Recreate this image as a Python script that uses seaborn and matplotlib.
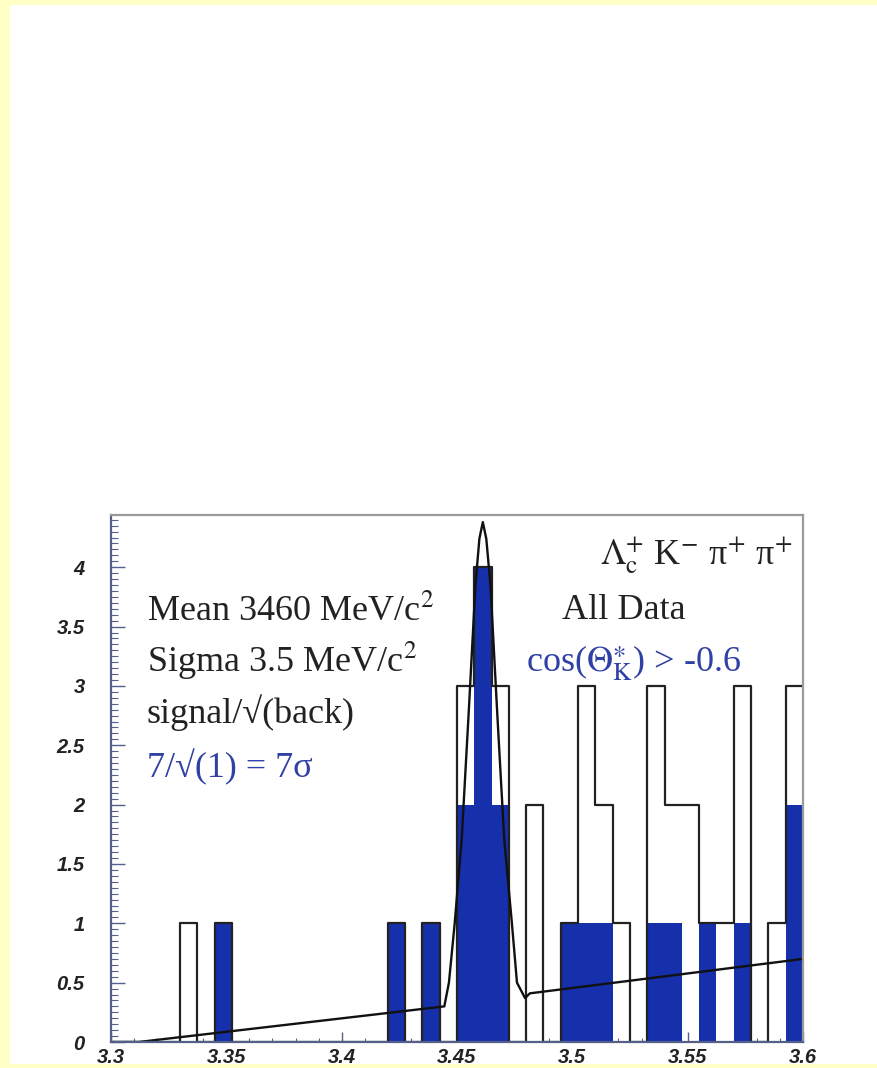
import numpy as np
import matplotlib
matplotlib.use("Agg")
import matplotlib.pyplot as plt
import seaborn as sns
from matplotlib.patches import Rectangle
from matplotlib.ticker import MultipleLocator

# ---------------- data ----------------
mass_range = (3.3, 3.6)          # GeV/c^2
n_bins = 40                      # bin width 7.5 MeV
# entries per bin, all data (open histogram)
all_data_counts = [0, 0, 0, 0, 1, 0, 1, 0, 0, 0,
                   0, 0, 0, 0, 0, 0, 1, 0, 1, 0,
                   3, 4, 3, 0, 2, 0, 1, 3, 2, 1,
                   0, 3, 2, 2, 1, 1, 3, 0, 1, 3]
# entries per bin with cos(Theta_K*) > -0.6 (filled histogram)
cos_cut_counts = [0, 0, 0, 0, 0, 0, 1, 0, 0, 0,
                  0, 0, 0, 0, 0, 0, 1, 0, 1, 0,
                  2, 4, 2, 0, 0, 0, 1, 1, 1, 0,
                  0, 1, 1, 0, 1, 0, 1, 0, 0, 2]
# fitted curve (gaussian + linear background)
fit_mass = [3.300, 3.312, 3.4445, 3.4465, 3.449, 3.452, 3.455, 3.458, 3.4597,
            3.4612, 3.4627, 3.4645, 3.4675, 3.4705, 3.4738, 3.476, 3.4795,
            3.4816, 3.600]
fit_value = [0.0, 0.0, 0.30, 0.50, 1.00, 1.70, 2.75, 3.85, 4.24,
             4.38, 4.24, 3.85, 2.75, 1.70, 1.00, 0.50, 0.37,
             0.41, 0.70]

x_ticks = [3.3, 3.35, 3.4, 3.45, 3.5, 3.55, 3.6]
x_tick_labels = ["3.3", "3.35", "3.4", "3.45", "3.5", "3.55", "3.6"]
y_ticks = [0, 0.5, 1, 1.5, 2, 2.5, 3, 3.5, 4]
y_tick_labels = ["0", "0.5", "1", "1.5", "2", "2.5", "3", "3.5", "4"]

# ---------------- style ----------------
sns.set_style("white")
plt.rcParams["font.family"] = ["Liberation Serif", "DejaVu Serif"]
plt.rcParams["mathtext.fontset"] = "stix"

BAR_BLUE = "#1530aa"
TEXT_BLUE = "#3040a4"
AXIS_COL = "#55608a"

W, H = 878, 1068
fig = plt.figure(figsize=(W / 100, H / 100), dpi=100)
fig.patch.set_facecolor("white")

# scanned-page yellow borders
yellow = "#ffffc6"
fig.add_artist(Rectangle((0, 0), 10 / W, 1, transform=fig.transFigure,
                         facecolor=yellow, edgecolor="none", zorder=0))
fig.add_artist(Rectangle((0, 1 - 5 / H), 1, 5 / H, transform=fig.transFigure,
                         facecolor=yellow, edgecolor="none", zorder=0))
fig.add_artist(Rectangle((0, 0), 1, 4 / H, transform=fig.transFigure,
                         facecolor=yellow, edgecolor="none", zorder=0))

left, right, top, bottom = 111, 803, 515, 1042
ax = fig.add_axes([left / W, 1 - bottom / H, (right - left) / W, (bottom - top) / H])
ax.set_facecolor("white")

edges = np.linspace(mass_range[0], mass_range[1], n_bins + 1)
centres = 0.5 * (edges[:-1] + edges[1:])

# open histogram (all data)
sns.histplot(x=centres, weights=all_data_counts, bins=n_bins, binrange=mass_range,
             element="step", fill=False, color="#222222", linewidth=1.6, ax=ax)
# filled histogram (angular cut)
sns.histplot(x=centres, weights=cos_cut_counts, bins=n_bins, binrange=mass_range,
             element="step", fill=True, color=BAR_BLUE, alpha=1.0, linewidth=0, ax=ax)
# fit curve
sns.lineplot(x=fit_mass, y=fit_value, sort=False, estimator=None,
             color="#111111", linewidth=1.7, ax=ax)

ax.set_xlim(*mass_range)
ax.set_ylim(0, 4.44)
ax.set_xlabel("")
ax.set_ylabel("")

ax.set_xticks(x_ticks)
ax.set_xticklabels(x_tick_labels)
ax.set_yticks(y_ticks)
ax.set_yticklabels(y_tick_labels)
ax.xaxis.set_minor_locator(MultipleLocator(0.01))
ax.yaxis.set_minor_locator(MultipleLocator(0.05))

ax.tick_params(axis="x", which="major", direction="in", length=7, width=1,
               color=AXIS_COL, pad=4, bottom=True, top=False)
ax.tick_params(axis="x", which="minor", direction="in", length=3, width=0.8,
               color=AXIS_COL, bottom=True, top=False)
ax.tick_params(axis="y", which="major", direction="in", length=10, width=1,
               color=AXIS_COL, pad=19, left=True, right=False)
ax.tick_params(axis="y", which="minor", direction="in", length=5, width=0.8,
               color=AXIS_COL, left=True, right=False)

for lbl in ax.get_xticklabels() + ax.get_yticklabels():
    lbl.set_fontfamily(["Liberation Sans", "DejaVu Sans"])
    lbl.set_fontweight("bold")
    lbl.set_fontstyle("italic")
    lbl.set_fontsize(14.5)
    lbl.set_color("#222222")

for side in ["left", "bottom"]:
    ax.spines[side].set_color(AXIS_COL)
    ax.spines[side].set_linewidth(1.6)
for side in ["top", "right"]:
    ax.spines[side].set_color("#9a9a9a")
    ax.spines[side].set_linewidth(1.6)
    ax.spines[side].set_visible(True)

# ---------------- annotations ----------------
fs = 26
txt_kw = dict(ha="left", va="baseline", fontsize=fs, transform=ax.transData)
ax.text(3.3156, 3.55, "Mean 3460 MeV/c$^{2}$", color="#222222", **txt_kw)
ax.text(3.3156, 3.12, "Sigma 3.5 MeV/c$^{2}$", color="#222222", **txt_kw)
ax.text(3.3156, 2.69, "signal/\u221a(back)", color="#222222", **txt_kw)
ax.text(3.3156, 2.23, "7/\u221a(1) = 7\u03c3", color=TEXT_BLUE, **txt_kw)

ax.text(3.512, 4.02,
        "$\\mathrm{\\Lambda}_{\\mathrm{c}}^{+}$ K$^{-}$ \u03c0$^{+}$ \u03c0$^{+}$",
        color="#222222", **txt_kw)
ax.text(3.4955, 3.56, "All Data", color="#222222", **txt_kw)
ax.text(3.480, 3.12, r"cos($\mathrm{\Theta}_{\mathrm{K}}^{\ast}$) > -0.6",
        color=TEXT_BLUE, **txt_kw)

fig.savefig("out.png", dpi=100, facecolor=fig.get_facecolor())
